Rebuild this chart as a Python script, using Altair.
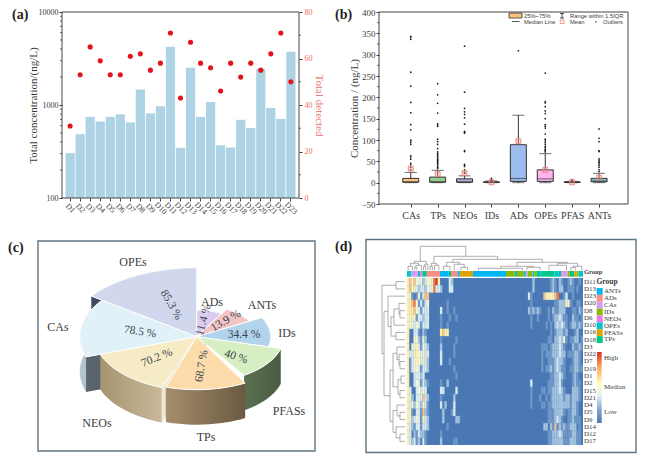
import math
import altair as alt
import pandas as pd

SERIF = "Liberation Serif"
SANS = "Liberation Sans"
INK = "#3c3c3c"

# ---------- panel (a)
sites = [f"D{i}" for i in range(1, 24)]
total_conc = [304, 486, 745, 665, 745, 794, 650, 1466, 814, 972, 4220, 346, 2518, 745, 1080, 369, 349, 693, 566, 2457, 926, 710, 3740]
total_detected = [31, 53, 65, 59, 53, 53, 61, 62, 55, 58, 71, 43, 67, 58, 56, 46, 58, 52, 58, 55, 62, 71, 50]
log_minor = [200, 300, 400, 500, 600, 700, 800, 900, 2000, 3000, 4000, 5000, 6000, 7000, 8000, 9000]
det_minor = [10, 30, 50, 70]

# ---------- panel (b)
box_names = ["CAs", "TPs", "NEOs", "IDs", "ADs", "OPEs", "PFAS", "ANTs"]
box_colors = ["#f6c27e", "#93cf93", "#bcabd9", "#d8b0b0", "#9dbdf0", "#fdb5f0", "#c8c8c8", "#84c8d0"]
box_q1 = [1, 1, 1, 0.5, 3, 3, 0.5, 2]
box_median = [2, 2, 2, 1, 10, 9, 1, 4]
box_q3 = [10, 13, 9, 2, 89, 30, 2, 10]
box_low = [0, 0, 0, 0, 0, 0, 0, 0]
box_high = [24, 29, 16, 4, 158, 68, 3, 22]
box_mean = [33, 20, 22, 1, 97, 30, 1, 12]
box_outliers = [
    [343, 340, 336, 259, 226, 188, 164, 136, 124, 100, 98, 94, 90, 63, 60, 55, 45, 42, 36, 30],
    [232, 206, 186, 163, 138, 135, 132, 102, 96, 90, 80, 72, 68, 65, 62, 58, 55, 52, 50, 47, 44, 42, 38, 36, 33],
    [320, 212, 174, 166, 160, 152, 137, 120, 118, 116, 75, 73, 43, 40, 38, 30, 25, 22],
    [10, 8, 6, 5],
    [309],
    [257, 190, 187, 178, 168, 162, 150, 136, 132, 128, 114, 102, 98, 94, 90, 85, 82, 78, 75, 72],
    [7, 5, 4],
    [126, 104, 96, 75, 73, 56, 53, 50, 47, 44, 40, 36, 30, 26],
]
conc_minor = [-25, 25, 75, 125, 175, 225, 275, 325, 375]

# ---------- panel (c)
pie_names = ["OPEs", "ADs", "ANTs", "IDs", "CAs", "PFASs", "NEOs", "TPs"]
pie_values = [85.3, 11.4, 13.9, 34.4, 78.5, 40, 70.2, 68.7]
pie_start = [306, 0, 30, 61, 251, 105, 200, 151]
pie_end = [360, 30, 61, 105, 306, 147, 251, 198]
pie_radius = [130, 50, 60, 74, 117, 87, 102, 100]
pie_top = ["#d1d8ee", "#dccdf0", "#f2c4c4", "#b1d3ec", "#e0f1f8", "#d6eec2", "#f5ecc6", "#fcdcaa"]
pie_wall = [["#5a6a80"], ["#8a7f9a"], ["#a08888"], ["#607d8f"], ["#b7c7d2", "#9db0bd"], ["#5b6f50", "#4a5c42"], ["#a6946f", "#c9b99a"], ["#a68d6c", "#6b5a42"]]
pie_face = ["#3d4a66", "#8a7f9a", "#a08888", "#607d8f", "#59646c", "#4a5c42", "#efe8d0", "#8a7355"]
TILT = 0.53
DEPTH = 35
CX, CY = 158.7, 97.7
outer_labels = ["OPEs", "ADs", "ANTs", "IDs", "PFASs", "TPs", "NEOs", "CAs"]
outer_x = [95, 174, 224, 249, 251, 168, 59, 20]
outer_y = [23, 63, 66, 94, 172, 198, 184, 88]
inner_labels = ["85.3 %", "11.4 %", "13.9 %", "34.4 %", "40 %", "68.7 %", "70.2 %", "78.5 %"]
inner_x = [133, 166, 188, 206, 198, 164, 119, 102]
inner_y = [66, 81, 82, 96, 118, 127, 119, 93]
inner_a = [60, 285, 330, 0, 18, 280, 338, 8]

# ---------- panel (d)
rows = ["D11", "D13", "D23", "D20", "D8", "D6", "D10", "D16", "D18", "D3", "D22", "D7", "D19", "D1", "D2", "D15", "D21", "D4", "D5", "D9", "D14", "D12", "D17"]
heat_left = ["5646434234", "5645323324", "5410141366", "5567413134", "5556431333", "5454133233", "5443431333", "5003310210", "5004421420", "5044531432",
             "5335543533", "5134543532", "5134431332", "5003332300", "5003431321", "5300343430", "5420333632", "5342432531", "5410331621", "5423431532",
             "5321331332", "5302132210", "5323120310"]
heat_mid = {
    "D11": {10: 4, 11: 5, 12: 7, 13: 8, 14: 5, 19: 3, 20: 2},
    "D13": {10: 3, 11: 4, 12: 7, 13: 3, 14: 3, 15: 2, 19: 3, 20: 3},
    "D23": {55: 3}, "D20": {18: 1},
    "D8": {15: 3, 18: 1, 21: 1, 55: 2}, "D6": {15: 1, 19: 1, 22: 1},
    "D10": {15: 1, 18: 1}, "D16": {15: 5, 16: 6, 17: 5, 18: 5},
    "D18": {15: 1, 22: 1}, "D3": {15: 2, 21: 1},
    "D22": {15: 3, 21: 1}, "D7": {15: 3, 19: 1}, "D19": {21: 1},
    "D1": {22: 1}, "D2": {18: 2, 15: 1},
    "D15": {15: 3, 16: 3, 22: 3}, "D21": {21: 2, 15: 1},
    "D4": {15: 3, 17: 2, 21: 3}, "D5": {16: 2, 20: 1, 21: 3},
    "D9": {16: 2, 22: 2, 23: 2}, "D14": {18: 1},
    "D12": {15: 1}, "D17": {15: 2, 21: 1, 22: 1},
}
heat_right = ["020000000121021001210010", "020000000121022001110100", "100000645546700130010000", "100000000001122254100110",
              "121210001021122200011021", "100100001012232110021101", "100000010102323210122121", "000000000101222120001200",
              "000000001102232410112201", "000001110122232100021121", "000001011122232201112210", "000001001112322100012210",
              "000001011212321100112211", "000000000112232100012100", "300000001112231000012110", "100001101122232100022210",
              "100010010122222122122210", "100001101122222222122100", "000000001112222101122100", "000000001112321001121110",
              "000000220216121211222010", "000000001122232111122110", "000000001122222111222110"]
level_colors = ["#4a78b4", "#6f97c8", "#a3c4df", "#d8eaf0", "#f4f6d0", "#fdefb0", "#fbc483", "#ee7d4f", "#d8392b"]
group_names = ["ANTs", "ADs", "CAs", "IDs", "NEOs", "OPEs", "PFASs", "TPs"]
group_colors = ["#00b6f6", "#f98e86", "#d59cf0", "#8cb900", "#ef78e0", "#00c5cf", "#e0a200", "#00c788"]
group_runs = [("OPEs", 2), ("CAs", 3), ("OPEs", 1), ("NEOs", 1), ("TPs", 2), ("ADs", 6), ("ANTs", 4), ("TPs", 1), ("ADs", 3), ("ANTs", 1),
              ("PFASs", 6), ("ANTs", 15), ("IDs", 4), ("OPEs", 1), ("IDs", 3), ("TPs", 1), ("CAs", 1), ("IDs", 2), ("OPEs", 1), ("IDs", 1),
              ("TPs", 1), ("OPEs", 1), ("TPs", 6), ("OPEs", 2), ("TPs", 1), ("CAs", 3), ("IDs", 1), ("TPs", 2), ("PFASs", 1), ("IDs", 1), ("OPEs", 2)]
left_tree = [23, [9, 0, 1], [21, [17, 2, [14, [11, [6, 3, [5, 4, 5]], 6], [9, 7, 8]]],
             [15, [12, [8, 9, [6, 10, [5, 11, 12]]], [7, [4, 13, 14], [5, 15, 16]]],
              [12, [8, 17, [5, 18, 19]], [9, 20, [5, 21, 22]]]]]]
top_tree = [24, [9, [7, [4, 0, 2], [5, [3, 3, 4], 6]], [6, [4, 7, 8], 9]],
            [14, [7, [4, 10, 11], [5, 12, 14]],
             [11, [8, [4, 16, 19], [6, 21, [3, 24, 27]]],
              [8, [4, [2, 32, 52], [3, 54, 60]], [7, [5, 64, 72], [4, [3, 74, 76], 79]]]]]]


def text_layer(txt, x, y, size=9, font=SERIF, weight="normal", color=INK, align="left"):
    return alt.Chart(pd.DataFrame({"t": [txt]})).mark_text(
        font=font, fontSize=size, fontWeight=weight, color=color, align=align, baseline="middle"
    ).encode(text="t:N", x=alt.value(x), y=alt.value(y))


def px_rect(x0, x1, y0, y1, **kw):
    return alt.Chart(pd.DataFrame({"a": [0]})).mark_rect(**kw).encode(
        x=alt.value(x0), x2=alt.value(x1), y=alt.value(y0), y2=alt.value(y1))


def px_rule(x0, x1, y0, y1, **kw):
    return alt.Chart(pd.DataFrame({"a": [0]})).mark_rule(**kw).encode(
        x=alt.value(x0), x2=alt.value(x1), y=alt.value(y0), y2=alt.value(y1))


# Every panel occupies one cell of a 2x2 grid; the plot area sits inside it.
LEFT_X, RIGHT_X, TOP = 38, 366, 12
ROW1_H = 192

# ---------- build (a)
CW = 277
AX0, AX1 = 62 - LEFT_X, 299 - LEFT_X
AH = 186
df_a = pd.DataFrame({"site": sites, "conc": total_conc, "det": total_detected})
xa = alt.X("site:N", sort=sites, title=None,
           scale=alt.Scale(range=[AX0, AX1], paddingInner=0.08, paddingOuter=0.35),
           axis=alt.Axis(labelAngle=45, labelAlign="center", labelBaseline="middle", labelPadding=7, tickSize=3, offset=AH - ROW1_H,
                         labelFont=SERIF, labelFontSize=8, labelColor=INK, tickColor=INK, domain=False))
log_scale = alt.Scale(type="log", domain=[100, 10000], nice=False, range=[AH, 0])
det_scale = alt.Scale(domain=[0, 80], nice=False, range=[AH, 0])
a_bars = alt.Chart(df_a).mark_bar(color="#aed3e5").encode(
    x=xa,
    y=alt.Y("conc:Q", scale=log_scale, stack=None, title="Total concentration/(ng/L)",
            axis=alt.Axis(values=[100, 1000, 10000], format="d", tickSize=3, labelPadding=1, labelFont=SERIF, labelFontSize=8, labelColor=INK, offset=-AX0,
                          tickColor=INK, domain=False, titleFont=SERIF, titleFontSize=11, titleColor=INK,
                          titleFontWeight="normal", titlePadding=0)))
a_pts = alt.Chart(df_a).mark_point(filled=True, color="#e3131b", size=26, opacity=1).encode(
    x=xa,
    y=alt.Y("det:Q", scale=det_scale, title="Total detected",
            axis=alt.Axis(orient="right", values=[0, 20, 40, 60, 80], tickSize=3, labelPadding=2, labelFont=SERIF, labelFontSize=8, offset=AX1 - CW,
                          labelColor="#ee6d66", tickColor=INK, domain=False, titleFont=SERIF, titleFontSize=11,
                          titleColor="#ee7b74", titleFontWeight="normal", titlePadding=1)))
a_minor_l = alt.Chart(pd.DataFrame({"v": log_minor})).mark_rule(color=INK, strokeWidth=0.8).encode(
    y=alt.Y("v:Q", scale=log_scale, axis=None), x=alt.value(AX0 - 2), x2=alt.value(AX0))
a_minor_r = alt.Chart(pd.DataFrame({"v": det_minor})).mark_rule(color=INK, strokeWidth=0.8).encode(
    y=alt.Y("v:Q", scale=det_scale, axis=None), x=alt.value(AX1), x2=alt.value(AX1 + 2))
panel_a = alt.layer(a_bars, a_pts, a_minor_l, a_minor_r,
                    px_rect(AX0, AX1, 0, AH, fillOpacity=0, stroke="#444", strokeWidth=1),
                    text_layer("(a)", 12 - LEFT_X, 15 - TOP, size=14, weight="bold", color="#222")).resolve_scale(y="independent").properties(
    width=CW, height=ROW1_H)

# ---------- build (b)
DW = 270
BX0, BX1 = 379 - RIGHT_X, 628 - RIGHT_X
BH = ROW1_H
xb = alt.Scale(type="point", domain=box_names, range=[BX0 + 18.3, BX0 + 233.5])
yb = alt.Scale(domain=[-50, 400], nice=False)
df_b = pd.DataFrame({"n": box_names, "c": box_colors, "q1": box_q1, "med": box_median, "q3": box_q3,
                     "lo": box_low, "hi": box_high, "mean": box_mean})
df_o = pd.DataFrame([{"n": n, "v": v} for n, vals in zip(box_names, box_outliers) for v in vals])
bx = alt.X("n:N", scale=xb, sort=box_names, title=None,
           axis=alt.Axis(labelAngle=0, labelFont=SERIF, labelFontSize=10, labelColor=INK, tickColor=INK, tickSize=3, domain=False, labelPadding=3))
b_axis = alt.Axis(values=list(range(-50, 401, 50)), tickSize=3, labelPadding=1, tickColor=INK, labelFont=SERIF, labelFontSize=9, labelColor=INK, offset=-BX0,
                  domain=False, titleFont=SERIF, titleFontSize=11, titleColor=INK, titleFontWeight="normal", titlePadding=1)
BT = "Concentration / (ng/L)"
by = lambda f: alt.Y(f, scale=yb, title=BT, axis=b_axis)
b_wh = alt.Chart(df_b).mark_rule(color="#333", strokeWidth=1).encode(x=bx, y=by("lo:Q"), y2="hi:Q")
b_cap1 = alt.Chart(df_b).mark_tick(color="#333", size=12, thickness=1).encode(x=bx, y=by("hi:Q"))
b_cap0 = alt.Chart(df_b).mark_tick(color="#333", size=12, thickness=1).encode(x=bx, y=by("lo:Q"))
b_box = alt.Chart(df_b).mark_bar(size=16, stroke="#333", strokeWidth=1).encode(
    x=bx, y=by("q1:Q"), y2="q3:Q", color=alt.Color("c:N", scale=None))
b_med = alt.Chart(df_b).mark_tick(color="#333", size=16, thickness=1).encode(x=bx, y=by("med:Q"))
b_out = alt.Chart(df_o).mark_point(filled=True, color="#1c1c1c", size=3, opacity=1).encode(x=bx, y=by("v:Q"))
b_mean = alt.Chart(df_b).mark_point(shape="square", size=24, color="#ec7f78", fill="#f0a09a", fillOpacity=0.35, strokeWidth=0.9, opacity=1).encode(
    x=bx, y=by("mean:Q"))
b_minor = alt.Chart(pd.DataFrame({"v": conc_minor})).mark_rule(color=INK, strokeWidth=0.8).encode(
    y=by("v:Q"), x=alt.value(BX0 - 2), x2=alt.value(BX0))
bl = lambda px: px - RIGHT_X
bt = lambda py: py - TOP
b_legend = [
    px_rect(bl(509), bl(522), bt(13), bt(18), fill="#f6c27e", stroke="#333", strokeWidth=0.8),
    text_layer("25%~75%", bl(524), bt(15.5), size=5.8, font=SANS),
    px_rule(bl(512), bl(519.5), bt(21.5), bt(21.5), color="#555", strokeWidth=1),
    text_layer("Median Line", bl(524), bt(22), size=5.8, font=SANS),
    px_rule(bl(562), bl(562), bt(13.5), bt(18), color="#333", strokeWidth=0.9),
    px_rule(bl(560), bl(564), bt(13.5), bt(13.5), color="#333", strokeWidth=0.9),
    px_rule(bl(560), bl(564), bt(18), bt(18), color="#333", strokeWidth=0.9),
    text_layer("Range within 1.5IQR", bl(570), bt(15.5), size=5.8, font=SANS),
    px_rect(bl(560.3), bl(564), bt(20), bt(23.5), fill="#ffffff", stroke="#ec7f78", strokeWidth=0.8),
    text_layer("Mean", bl(570), bt(22), size=5.8, font=SANS),
    px_rect(bl(595.2), bl(596.4), bt(21.3), bt(22.5), fill="#222"),
    text_layer("Outliers", bl(603), bt(22), size=5.8, font=SANS),
]
panel_b = alt.layer(b_wh, b_cap1, b_cap0, b_box, b_med, b_out, b_mean, b_minor, *b_legend,
                    px_rect(BX0, BX1, 0, BH, fillOpacity=0, stroke="#444", strokeWidth=1),
                    text_layer("(b)", 335 - RIGHT_X, 15 - TOP, size=14, weight="bold", color="#222")).properties(
    width=DW, height=ROW1_H)


# ---------- build (c)
def rim(angle, r, dy=0.0):
    t = math.radians(angle)
    return [CX + r * math.sin(t), CY - r * TILT * math.cos(t) + dy]


def feature(points):
    pts = [list(p) for p in points] + [list(points[0])]
    return {"type": "Feature", "properties": {}, "geometry": {"type": "Polygon", "coordinates": [pts]}}


def geo(points, **kw):
    return alt.Chart(alt.Data(values=[feature(points)])).mark_geoshape(**kw).project(
        type="identity", scale=1, translate=[0, 0])


CH = 214
c_layers = [alt.Chart(pd.DataFrame({"x0": [0], "x1": [277], "y0": [2], "y1": [212]})).mark_rect(
    fill="white", stroke="#5f7480", strokeWidth=1.4).encode(
    x=alt.X("x0:Q", scale=alt.Scale(domain=[0, CW], nice=False), axis=None), x2="x1:Q",
    y=alt.Y("y0:Q", scale=alt.Scale(domain=[0, CH], reverse=True, nice=False), axis=None), y2="y1:Q")]
for a0, a1, r, top, wall, face in zip(pie_start, pie_end, pie_radius, pie_top, pie_wall, pie_face):
    steps = max(2, int((a1 - a0) / 3))
    arc = [a0 + (a1 - a0) * i / steps for i in range(steps + 1)]
    wall_pts = [rim(a, r) for a in arc] + [rim(a, r, DEPTH) for a in reversed(arc)]
    if len(wall) == 2:
        fill = alt.LinearGradient(gradient="linear", x1=0, x2=1, y1=0, y2=0,
                                  stops=[alt.GradientStop(color=wall[0], offset=0), alt.GradientStop(color=wall[1], offset=1)])
    else:
        fill = wall[0]
    c_layers.append(geo(wall_pts, fill=fill, strokeWidth=0))
    if math.sin(math.radians(a0)) < 0:  # the radial face looks towards the viewer
        c_layers.append(geo([[CX, CY], rim(a0, r), rim(a0, r, DEPTH), [CX, CY + DEPTH]], fill=face, strokeWidth=0))
    c_layers.append(geo([[CX, CY]] + [rim(a, r) for a in arc], fill=top, stroke="#ffffff", strokeWidth=1))
cx_scale = alt.Scale(domain=[0, CW], nice=False)
cy_scale = alt.Scale(domain=[0, CH], reverse=True, nice=False)
c_outer = alt.Chart(pd.DataFrame({"t": outer_labels, "x": outer_x, "y": outer_y})).mark_text(
    font=SERIF, fontSize=12, color=INK).encode(
    text="t:N", x=alt.X("x:Q", scale=cx_scale, axis=None), y=alt.Y("y:Q", scale=cy_scale, axis=None))
c_inner = alt.Chart(pd.DataFrame({"t": inner_labels, "x": inner_x, "y": inner_y, "a": inner_a})).mark_text(
    font=SERIF, fontSize=11.5, color="#3a4550").encode(
    text="t:N", x=alt.X("x:Q", scale=cx_scale, axis=None), y=alt.Y("y:Q", scale=cy_scale, axis=None),
    angle=alt.Angle("a:Q", scale=None))
panel_c = alt.layer(*c_layers, c_outer, c_inner,
                    text_layer("(c)", 8 - LEFT_X, 248 - 239, size=14, weight="bold", color="#222")).properties(width=CW, height=CH)

# ---------- build (d)
DH = 214
CELL_W, CELL_H = 2.2, 7.26
X0, Y0 = 407 - RIGHT_X, 278 - 239
cu = lambda px: (px - RIGHT_X - X0) / CELL_W
ru = lambda py: (py - 239 - Y0) / CELL_H
dx = alt.Scale(domain=[cu(366), cu(636)], nice=False, zero=False)
dy = alt.Scale(domain=[ru(239), ru(453)], reverse=True, nice=False, zero=False)
X = lambda f: alt.X(f, scale=dx, axis=None)
Y = lambda f: alt.Y(f, scale=dy, axis=None)

cells = []
for i, name in enumerate(rows):
    mid = ["0"] * 46
    for col, lev in heat_mid.get(name, {}).items():
        mid[col - 10] = str(lev)
    line = heat_left[i] + "".join(mid) + heat_right[i]
    for c, ch in enumerate(line[:80]):
        if ch != "0":
            cells.append({"c0": c, "c1": c + 1, "r0": i, "r1": i + 1, "hex": level_colors[int(ch)]})
d_base = alt.Chart(pd.DataFrame({"c0": [0], "c1": [80], "r0": [0], "r1": [23]})).mark_rect(fill=level_colors[0]).encode(
    x=X("c0:Q"), x2="c1:Q", y=Y("r0:Q"), y2="r1:Q")
d_heat = alt.Chart(alt.Data(values=cells)).mark_rect(strokeWidth=0.2).encode(
    x=X("c0:Q"), x2="c1:Q", y=Y("r0:Q"), y2="r1:Q", color=alt.Color("hex:N", scale=None), stroke=alt.Stroke("hex:N", scale=None))

strip = []
pos = 0
for g, n in group_runs:
    strip.append({"c0": pos, "c1": pos + n, "r0": ru(271), "r1": ru(276.7), "hex": group_colors[group_names.index(g)]})
    pos += n
d_strip = alt.Chart(alt.Data(values=strip)).mark_rect().encode(
    x=X("c0:Q"), x2="c1:Q", y=Y("r0:Q"), y2="r1:Q", color=alt.Color("hex:N", scale=None))


def walk(node, segs):
    if not isinstance(node, list):
        return node + 0.5, 0
    h, a, b = node
    pa, ha = walk(a, segs)
    pb, hb = walk(b, segs)
    segs.append((pa, ha, pa, h))
    segs.append((pb, hb, pb, h))
    segs.append((pa, h, pb, h))
    return (pa + pb) / 2, h


lsegs, tsegs = [], []
walk(left_tree, lsegs)
walk(top_tree, tsegs)
seg_rows = []
for r0, h0, r1, h1 in lsegs:
    seg_rows.append({"x": cu(405 - h0), "x2": cu(405 - h1), "y": r0, "y2": r1})
for c0, h0, c1, h1 in tsegs:
    seg_rows.append({"x": c0, "x2": c1, "y": ru(270.3 - h0), "y2": ru(270.3 - h1)})
d_tree = alt.Chart(alt.Data(values=seg_rows)).mark_rule(color="#777777", strokeWidth=0.6).encode(
    x=X("x:Q"), x2="x2:Q", y=Y("y:Q"), y2="y2:Q")

d_frame = alt.Chart(pd.DataFrame({"x": [cu(366)], "x2": [cu(636)], "y": [ru(239.5)], "y2": [ru(452.5)]})).mark_rect(
    fill="white", stroke="#5f7480", strokeWidth=1.4).encode(x=X("x:Q"), x2="x2:Q", y=Y("y:Q"), y2="y2:Q")
d_rowlab = alt.Chart(pd.DataFrame({"t": rows, "x": [cu(584)] * 23, "y": [i + 0.5 for i in range(23)]})).mark_text(
    font=SERIF, fontSize=7, color=INK, align="left").encode(text="t:N", x=X("x:Q"), y=Y("y:Q"))
legend_rows = pd.DataFrame({"t": group_names, "x": [cu(604)] * 8, "y": [ru(291.3 + 6.87 * i) for i in range(8)],
                            "c0": [cu(596.7)] * 8, "c1": [cu(602.7)] * 8,
                            "r0": [ru(288 + 6.87 * i) for i in range(8)], "r1": [ru(288 + 6.87 * (i + 1)) for i in range(8)],
                            "hex": group_colors})
d_swatch = alt.Chart(legend_rows).mark_rect().encode(
    x=X("c0:Q"), x2="c1:Q", y=Y("r0:Q"), y2="r1:Q", color=alt.Color("hex:N", scale=None))
d_legtext = alt.Chart(legend_rows).mark_text(font=SERIF, fontSize=7, color=INK, align="left").encode(text="t:N", x=X("x:Q"), y=Y("y:Q"))
colorbar = alt.Chart(pd.DataFrame({"x": [cu(597)], "x2": [cu(601.7)], "y": [ru(352)], "y2": [ru(423)]})).mark_rect(
    fill=alt.LinearGradient(gradient="linear", x1=0, x2=0, y1=0, y2=1, stops=[
        alt.GradientStop(color="#d73027", offset=0), alt.GradientStop(color="#fba35c", offset=0.2),
        alt.GradientStop(color="#ffffbf", offset=0.45), alt.GradientStop(color="#e0f0f4", offset=0.62),
        alt.GradientStop(color="#7da6d0", offset=0.82), alt.GradientStop(color="#4a78b4", offset=1)])
).encode(x=X("x:Q"), x2="x2:Q", y=Y("y:Q"), y2="y2:Q")
d_texts = [
    text_layer("Group", 584 - RIGHT_X, 271.7 - 239, size=6.5, weight="bold"),
    text_layer("Group", 596.5 - RIGHT_X, 281.7 - 239, size=7.5, weight="bold"),
    text_layer("High", 604 - RIGHT_X, 357.7 - 239, size=7),
    text_layer("Median", 604 - RIGHT_X, 386.7 - 239, size=7),
    text_layer("Low", 604 - RIGHT_X, 411.7 - 239, size=7),
    text_layer("(d)", 335 - RIGHT_X, 247 - 239, size=14, weight="bold", color="#222"),
]
panel_d = alt.layer(d_frame, d_tree, d_strip, d_base, d_heat, d_rowlab, d_swatch, d_legtext, colorbar, *d_texts).properties(width=DW, height=DH)

chart = alt.concat(
    panel_a, panel_b, panel_c, panel_d,
    columns=2, bounds="flush",
    spacing={"row": 35, "column": 51},
).properties(padding=0, background="white").configure_view(stroke=None).configure_axis(grid=False)

chart.save("out.html", embed_options={"renderer": "svg", "actions": False})
